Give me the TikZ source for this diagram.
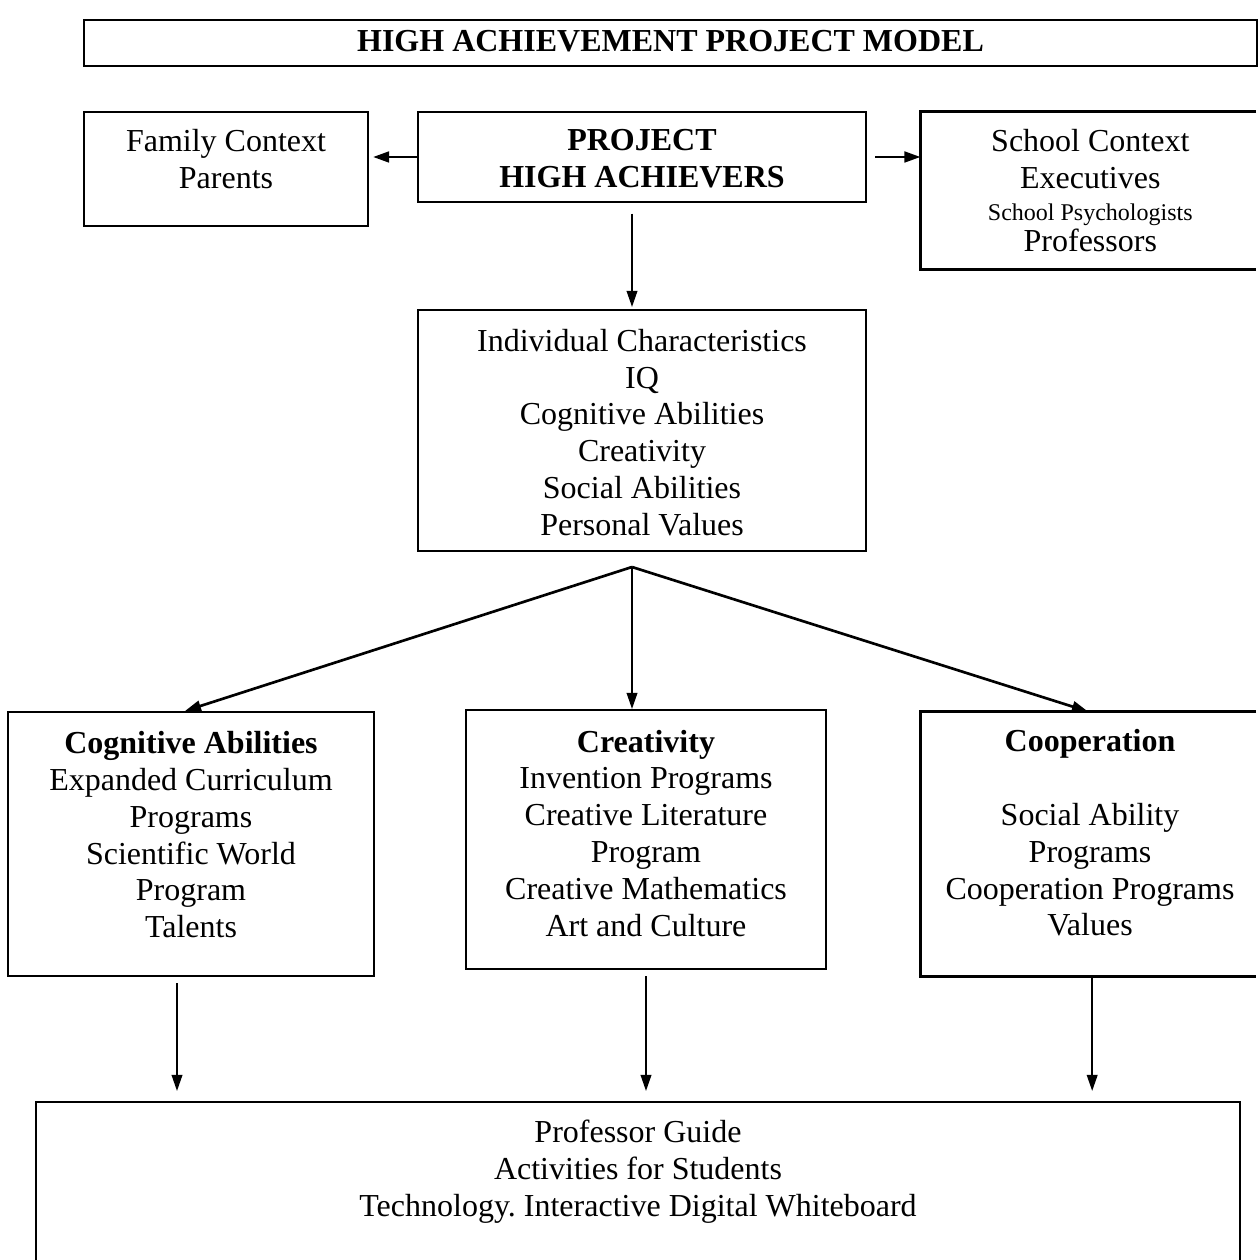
\documentclass[tikz,border=0pt]{standalone}
\usepackage{fontspec}
\setmainfont{Liberation Serif}
\usetikzlibrary{arrows.meta, positioning}
\newcommand{\pxl}{0.375pt}

\begin{document}
\frenchspacing
\begin{tikzpicture}[x=0.375pt, y=-0.375pt]
\tikzstyle{box}=[draw=black, line width=0.8pt, inner sep=0pt]
\tikzstyle{openbox}=[draw=none, inner sep=0pt]
\tikzstyle{txt}=[align=center, font=\fontsize{12}{13.8}\selectfont]
\tikzstyle{txtb}=[align=center, font=\fontsize{12}{13.8}\selectfont\bfseries]
\tikzstyle{arr}=[-{Triangle[length=6pt,width=4pt]}, line width=0.6pt]
\useasboundingbox (0,0) rectangle (1258,1260);
\coordinate (edge) at (1256,0);
% top
\node[box, minimum width=1173*\pxl, minimum height=46*\pxl, label={[txtb, yshift=0.75pt]center:{HIGH ACHIEVEMENT PROJECT MODEL}}] (title) at (670.5,43) {};
\node[box, minimum width=284*\pxl, minimum height=114*\pxl, label={[txt, yshift=3.75pt]center:{Family Context\\Parents}}] (fam) at (226,169) {};
\node[box, minimum width=448*\pxl, minimum height=90*\pxl, label={[txtb, yshift=-0.75pt]center:{PROJECT\\HIGH ACHIEVERS}}] (proj) at (642,157) {};
\node[openbox, minimum width=337*\pxl, minimum height=157*\pxl, label={[txt, xshift=0.3pt]center:{School Context\\Executives\\[-1.8pt]{\fontsize{9}{10}\selectfont School Psychologists}\\[-2.2pt]Professors}}] (school) at (1089.5,190.5) {};
\node[box, minimum width=448*\pxl, minimum height=241*\pxl, label={[txt, yshift=-0.75pt]center:{Individual Characteristics\\IQ\\Cognitive Abilities\\Creativity\\Social Abilities\\Personal Values}}] (ind) at (642,430.5) {};
% programs
\node[box, minimum width=366*\pxl, minimum height=264*\pxl, label={[txt, yshift=3.5pt]center:{\textbf{Cognitive Abilities}\\Expanded Curriculum\\Programs\\Scientific World\\Program\\Talents}}] (cog) at (191,844) {};
\node[box, minimum width=360*\pxl, minimum height=259*\pxl, label={[txt, yshift=2.4pt]center:{\textbf{Creativity}\\Invention Programs\\Creative Literature\\Program\\Creative Mathematics\\Art and Culture}}] (crea) at (646,839.5) {};
\node[openbox, minimum width=337*\pxl, minimum height=264*\pxl, label={[txt, xshift=0.2pt, yshift=4.1pt]center:{\textbf{Cooperation}\\[13.8pt]Social Ability\\Programs\\Cooperation Programs\\Values}}] (coop) at (1089.5,844) {};
\node[box, minimum width=1204*\pxl, minimum height=160*\pxl, label={[txt, yshift=3.8pt]center:{Professor Guide\\Activities for Students\\Technology. Interactive Digital Whiteboard}}] (bot) at (638,1182) {};
% boxes cut at the right edge
\draw[line width=0.8pt] (school.north west -| edge) -- (school.north west) -- (school.south west) -- (school.south west -| edge);
\draw[line width=0.8pt] (coop.north west -| edge) -- (coop.north west) -- (coop.south west) -- (coop.south west -| edge);
% arrows
\coordinate (split) at (632,567);
\draw[arr, line width=1pt, shorten >=1.5pt] (proj.west) -- (proj.west -| fam.east);
\draw[arr, line width=1pt] ([xshift=3pt]proj.east) -- (proj.east -| school.west);
\draw[arr, shorten >=0.75pt] ([xshift=-3.75pt,yshift=-4pt]proj.south) -- ([xshift=-3.75pt]ind.north);
\draw[arr, line width=1pt] (split) -- ([xshift=-0.6pt]coop.north);
\draw[arr] (split) -- (split |- crea.north);
\draw[arr, line width=1pt] (split) -- ([xshift=-2.25pt]cog.north);
\draw[arr, shorten <=2.25pt, shorten >=3.75pt] ([xshift=-5.25pt]cog.south) -- ([xshift=-5.25pt]cog.south |- bot.north);
\draw[arr, shorten <=2.25pt, shorten >=3.75pt] (crea.south) -- (crea.south |- bot.north);
\draw[arr, shorten <=0.5pt, shorten >=3.75pt] ([xshift=1pt]coop.south) -- ([xshift=1pt]coop.south |- bot.north);
\end{tikzpicture}
\end{document}
